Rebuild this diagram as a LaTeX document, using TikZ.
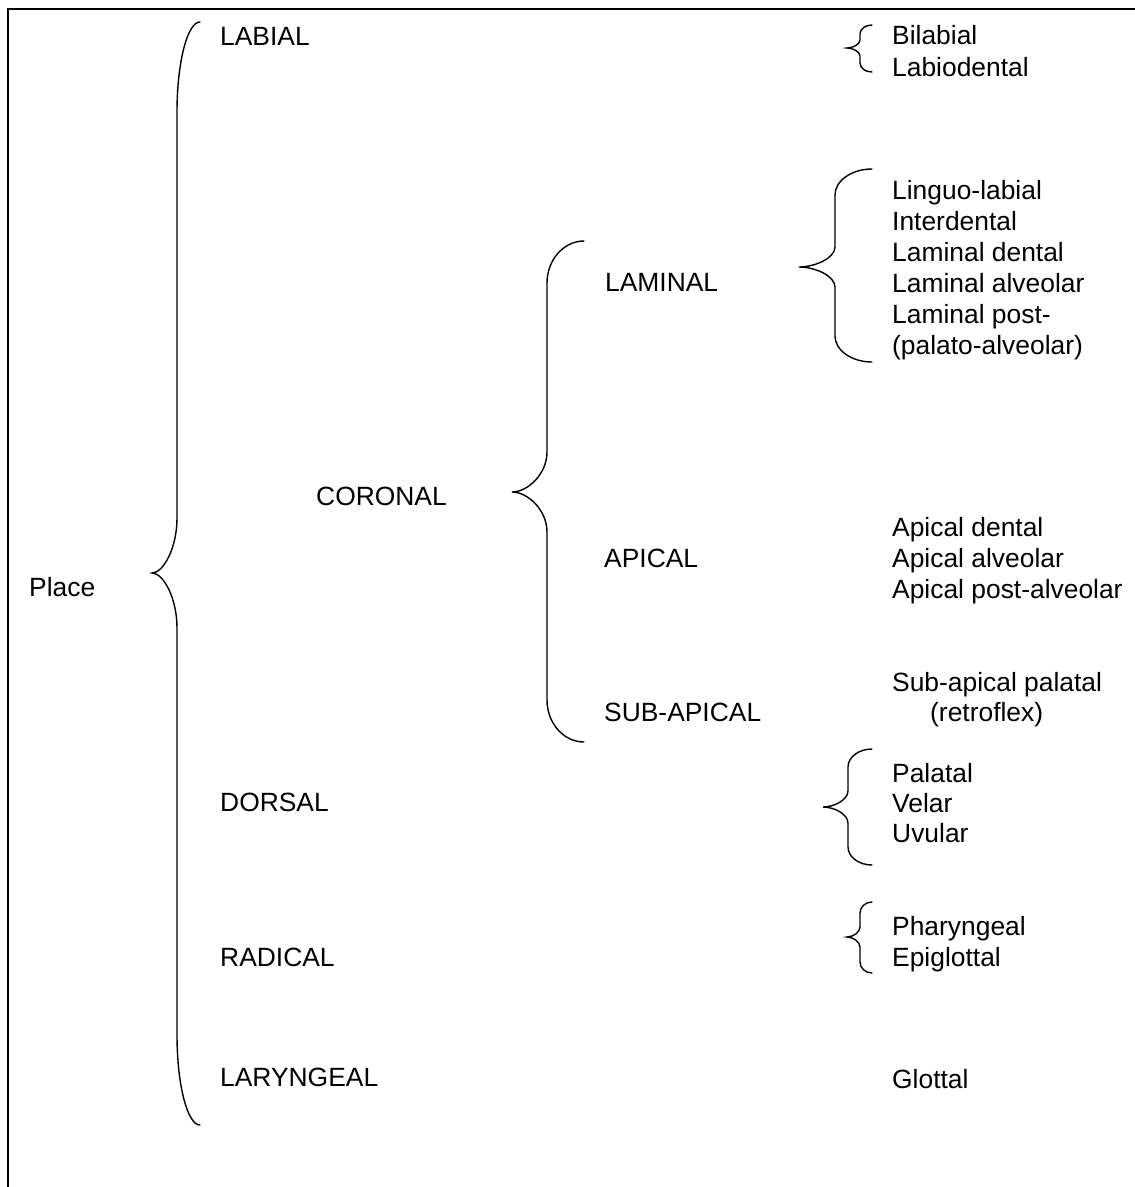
\documentclass[tikz,border=0pt]{standalone}
\usepackage{fontspec}
\setmainfont{Liberation Sans}
\newcommand{\curlybr}[8]{% #1 xe, #2 xv, #3 xt, #4 ytop, #5 ytip, #6 ybot, #7 end curve, #8 tip curve
  \draw[bracestyle] (#1,#4) .. controls ({#2+0.45*(#1-#2)},#4) and (#2,{#4+0.45*#7}) .. (#2,{#4+#7})
    -- (#2,{#5-#8}) .. controls (#2,{#5-0.45*#8}) and ({#3+0.45*(#2-#3)},#5) .. (#3,#5)
    .. controls ({#3+0.45*(#2-#3)},#5) and (#2,{#5+0.45*#8}) .. (#2,{#5+#8})
    -- (#2,{#6-#7}) .. controls (#2,{#6-0.45*#7}) and ({#2+0.45*(#1-#2)},#6) .. (#1,#6);}
\begin{document}
\begin{tikzpicture}[x=1pt,y=-1pt,
  lbl/.style={anchor=base west,inner sep=0pt,font=\fontsize{26.4}{31}\selectfont},
  bracestyle/.style={line width=1.4pt,line cap=round},
  framestyle/.style={line width=1.6pt}]
\useasboundingbox (0,0) rectangle (1135,1187);
% frame
\draw[framestyle] (8,1187) -- (8,9) -- (1135,9);

% left column
\node[lbl] (place) at (29,596) {Place};
\node[lbl] (labial) at (220,45.5) {LABIAL};
\node[lbl] (coronal) at (316,505.5) {CORONAL};
\node[lbl] (dorsal) at (220,811.5) {DORSAL};
\node[lbl] (radical) at (220,966.5) {RADICAL};
\node[lbl] (laryngeal) at (220,1086.5) {LARYNGEAL};

% coronal subdivisions
\node[lbl] (laminal) at (605,291) {LAMINAL};
\node[lbl] (apical) at (604,567.5) {APICAL};
\node[lbl] (subapical) at (604,721.5) {SUB-APICAL};

% right column
\node[lbl] (bilabial) at (892,44) {Bilabial};
\node[lbl] (labiodental) at (892,76) {Labiodental};

\node[lbl] (lingual) at (892,199) {Linguo-labial};
\node[lbl] (interdental) at (892,230) {Interdental};
\node[lbl] (lamdental) at (892,261) {Laminal dental};
\node[lbl] (lamalv) at (892,292) {Laminal alveolar};
\node[lbl] (lampost) at (892,323) {Laminal post-};
\node[lbl] (palalv) at (892,354) {(palato-alveolar)};

\node[lbl] (apdental) at (892,536.5) {Apical dental};
\node[lbl] (apalv) at (892,567.5) {Apical alveolar};
\node[lbl] (appost) at (892,598) {Apical post-alveolar};

\node[lbl] (subpal) at (892,691) {Sub-apical palatal};
\node[lbl] (retro) at (930,721.5) {(retroflex)};

\node[lbl] (palatal) at (892,782) {Palatal};
\node[lbl] (velar) at (892,812) {Velar};
\node[lbl] (uvular) at (892,842) {Uvular};

\node[lbl] (pharyngeal) at (892,935) {Pharyngeal};
\node[lbl] (epiglottal) at (892,966) {Epiglottal};

\node[lbl] (glottal) at (892,1088) {Glottal};

% braces
\curlybr{200}{177}{152}{22}{573}{1125}{90}{55}
\curlybr{584}{547}{512}{241}{492}{742}{42}{40}
\curlybr{872}{835}{799}{169}{267}{362}{26}{20}
\curlybr{872}{860}{847}{25}{48}{72}{9}{8}
\curlybr{872}{848}{823}{749}{807}{865}{18}{16}
\curlybr{872}{860}{847}{902}{937}{973}{11}{10}
\end{tikzpicture}
\end{document}
